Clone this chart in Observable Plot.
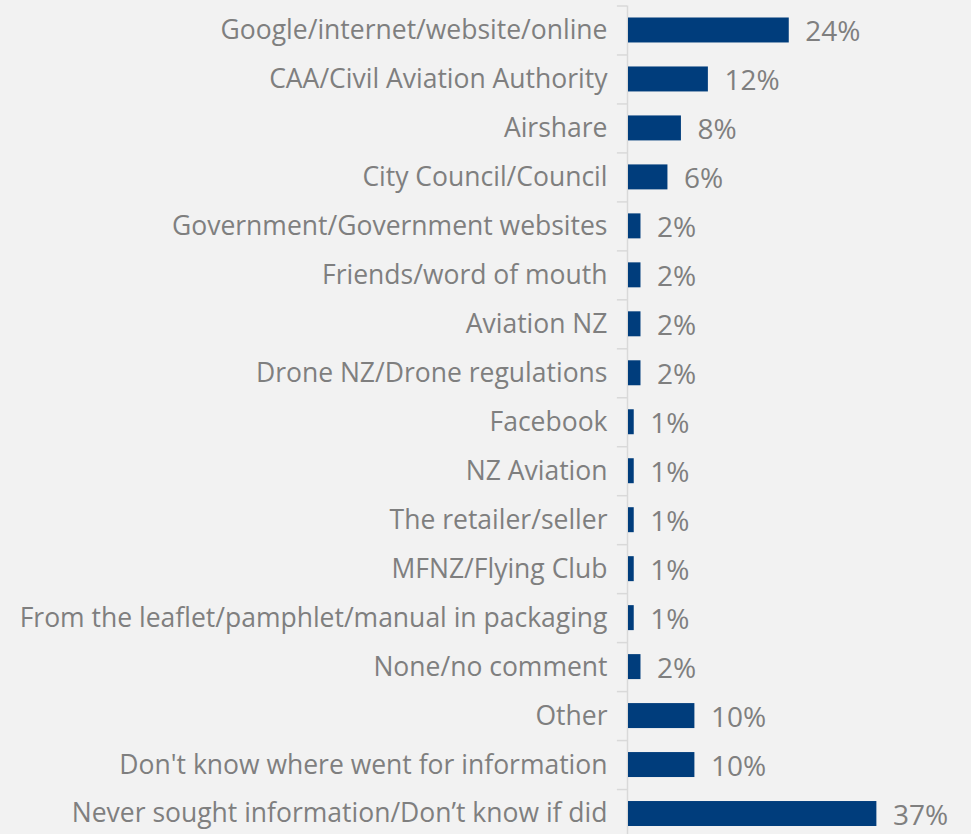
<!DOCTYPE html>
<html>
<head>
<meta charset="utf-8">
<script src="https://cdn.jsdelivr.net/npm/d3@7"></script>
<script src="https://cdn.jsdelivr.net/npm/@observablehq/plot@0.6"></script>
<style>
html, body { margin: 0; padding: 0; background: #f2f2f2; overflow: hidden; }
#chart svg { display: block; }
</style>
</head>
<body>
<div id="chart"></div>
<script>
const categories = [
  "Google/internet/website/online",
  "CAA/Civil Aviation Authority",
  "Airshare",
  "City Council/Council",
  "Government/Government websites",
  "Friends/word of mouth",
  "Aviation NZ",
  "Drone NZ/Drone regulations",
  "Facebook",
  "NZ Aviation",
  "The retailer/seller",
  "MFNZ/Flying Club",
  "From the leaflet/pamphlet/manual in packaging",
  "None/no comment",
  "Other",
  "Don't know where went for information",
  "Never sought information/Don\u2019t know if did"
];
const values = [24, 12, 8, 6, 2, 2, 2, 2, 1, 1, 1, 1, 1, 2, 10, 10, 37];

const data = categories.map((c, i) => ({category: c, value: values[i]}));

const step = (838 - 5.5) / categories.length;
const chart = Plot.plot({
  width: 971,
  height: 838,
  marginLeft: 627,
  marginRight: 7,
  marginTop: 5.5,
  marginBottom: 0,
  style: {background: "#f2f2f2", fontFamily: "'Open Sans', sans-serif"},
  x: {domain: [0, 50], axis: null},
  y: {domain: categories, paddingInner: 0.49, paddingOuter: 0.245, round: false, axis: null},
  marks: [
    Plot.ruleX([0], {stroke: "#d9d9d9", strokeWidth: 1.5}),
    Plot.ruleY(categories, {y: d => d, x1: -1.5, x2: 0, dy: -step / 2, stroke: "#d9d9d9", strokeWidth: 1.5}),
    Plot.barX(data, {y: "category", x: "value", fill: "#003d7c", insetLeft: 1}),
    Plot.text(data, {y: "category", x: "value", text: d => d.value + "%", dx: 16, dy: 2, textAnchor: "start", fontSize: 28, fill: "#7f7f7f"}),
    Plot.axisY({tickSize: 0, tickPadding: 20, fontSize: 26.5, color: "#7f7f7f", label: null})
  ]
});
document.getElementById("chart").appendChild(chart);
</script>
</body>
</html>
